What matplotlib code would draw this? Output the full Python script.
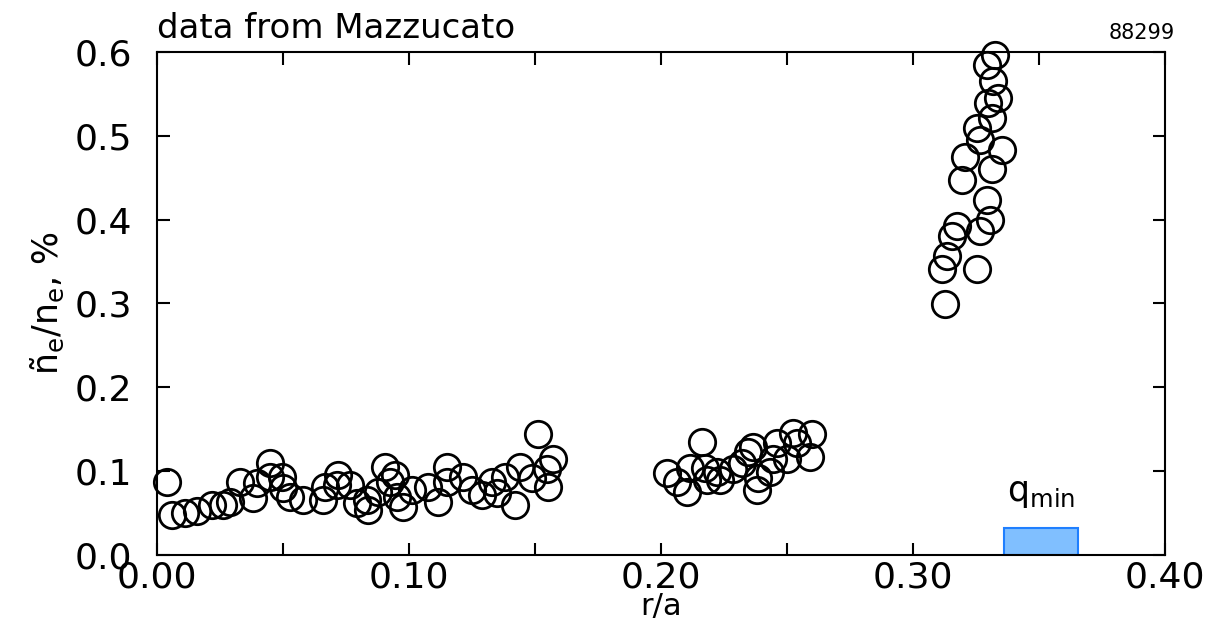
import matplotlib.pyplot as plt
from matplotlib.patches import Rectangle
from matplotlib.ticker import MultipleLocator

# r/a and fluctuation level (%)
r_left = [0.0040, 0.0060, 0.0111, 0.0159, 0.0218, 0.0262, 0.0290, 0.0329, 0.0381, 0.0397,
          0.0448, 0.0448, 0.0496, 0.0500, 0.0528, 0.0579, 0.0659, 0.0667, 0.0718, 0.0714,
          0.0766, 0.0794, 0.0833, 0.0837, 0.0877, 0.0905, 0.0925, 0.0944, 0.0952, 0.0976,
          0.1012, 0.1075, 0.1115, 0.1151, 0.1151, 0.1214, 0.1250, 0.1290, 0.1329, 0.1349,
          0.1381, 0.1421, 0.1440, 0.1488, 0.1512, 0.1548, 0.1571, 0.1552]
n_left = [0.087, 0.048, 0.050, 0.052, 0.060, 0.060, 0.063, 0.087, 0.068, 0.086,
          0.110, 0.093, 0.093, 0.080, 0.069, 0.066, 0.066, 0.081, 0.096, 0.084,
          0.084, 0.062, 0.066, 0.054, 0.075, 0.105, 0.087, 0.096, 0.069, 0.057,
          0.078, 0.081, 0.063, 0.105, 0.087, 0.093, 0.078, 0.072, 0.087, 0.074,
          0.093, 0.060, 0.105, 0.092, 0.144, 0.102, 0.114, 0.081]

r_mid = [0.2024, 0.2063, 0.2103, 0.2163, 0.2115, 0.2175, 0.2183, 0.2234, 0.2222, 0.2286,
         0.2321, 0.2345, 0.2365, 0.2381, 0.2385, 0.2433, 0.2444, 0.2460, 0.2500, 0.2524,
         0.2540, 0.2591, 0.2599]
n_mid = [0.098, 0.087, 0.075, 0.135, 0.104, 0.104, 0.090, 0.090, 0.099, 0.102,
         0.110, 0.123, 0.129, 0.078, 0.092, 0.099, 0.114, 0.134, 0.114, 0.146,
         0.134, 0.117, 0.144]

r_right = [0.3325, 0.3294, 0.3317, 0.3337, 0.3298, 0.3313, 0.3254, 0.3266, 0.3353, 0.3206,
           0.3313, 0.3194, 0.3294, 0.3306, 0.3266, 0.3175, 0.3155, 0.3135, 0.3115, 0.3254,
           0.3127]
n_right = [0.596, 0.584, 0.565, 0.545, 0.539, 0.521, 0.509, 0.495, 0.483, 0.475,
           0.461, 0.447, 0.423, 0.399, 0.387, 0.392, 0.380, 0.357, 0.341, 0.341,
           0.299]

qmin_range = [0.336, 0.3655]
qmin_height = 0.0323

fig = plt.figure(figsize=(12.18, 6.24), dpi=100)
ax = fig.add_axes([0.1289, 0.1106, 0.9565 - 0.1289, 0.9167 - 0.1106])

for r, n in [(r_left, n_left), (r_mid, n_mid), (r_right, n_right)]:
    ax.plot(r, n, 'o', ms=19, mfc='none', mec='black', mew=2, clip_on=False, zorder=3)

# q_min band
ax.add_patch(Rectangle((qmin_range[0], 0), qmin_range[1] - qmin_range[0], qmin_height,
                       facecolor='#80bfff', edgecolor='#1f7fff', lw=1.5, zorder=2))
ax.text(sum(qmin_range) / 2, 0.074, r'q$_\mathregular{min}$', fontsize=25,
        ha='center', va='center')

ax.set_xlim(0, 0.4)
ax.set_ylim(0, 0.6)
ax.xaxis.set_major_locator(MultipleLocator(0.1))
ax.xaxis.set_minor_locator(MultipleLocator(0.05))
ax.yaxis.set_major_locator(MultipleLocator(0.1))
ax.xaxis.set_major_formatter(lambda v, p: f'{v:.2f}')
ax.yaxis.set_major_formatter(lambda v, p: f'{v:.1f}')
ax.tick_params(which='both', direction='in', top=True, right=True, length=9, width=1.5)
ax.tick_params(axis='x', labelsize=26, pad=4)
ax.tick_params(axis='y', labelsize=26, pad=18)
for s in ax.spines.values():
    s.set_linewidth(1.5)

ax.set_xlabel('r/a', fontsize=22, labelpad=-2)
ax.set_ylabel(r'ñ$_\mathregular{e}$/n$_\mathregular{e}$, %', fontsize=25, labelpad=6)

fig.text(0.1289, 0.955, 'data from Mazzucato', fontsize=24.5, ha='left', va='center')
fig.text(0.965, 0.947, '88299', fontsize=15, ha='right', va='center')

fig.savefig('out.png', dpi=100)
